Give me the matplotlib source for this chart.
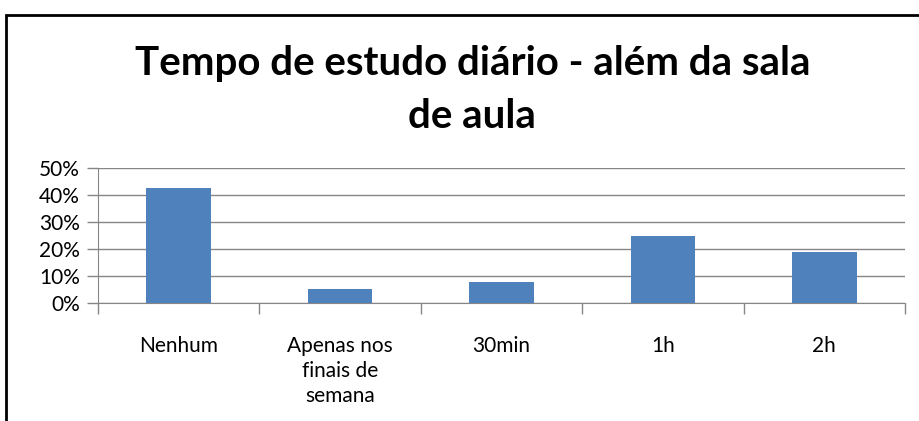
import matplotlib.pyplot as plt
from matplotlib.patches import Rectangle
from matplotlib.ticker import FixedLocator, PercentFormatter

categories = ["Nenhum", "Apenas nos\nfinais de\nsemana", "30min", "1h", "2h"]
values = [42.5, 5.3, 7.9, 24.9, 18.9]
yticks = [0, 10, 20, 30, 40, 50]
title_lines = ["Tempo de estudo diário - além da sala", "de aula"]

BAR_COLOR = "#4F81BD"
GRID_COLOR = "#868686"

plt.rcParams["font.family"] = ["Lato", "DejaVu Sans"]

fig = plt.figure(figsize=(9.19, 4.21), dpi=100)
ax = fig.add_axes([98 / 919, 1 - 303 / 421, (905 - 98) / 919, (303 - 168) / 421])

x = list(range(len(categories)))
ax.bar(x, values, width=0.4, color=BAR_COLOR, zorder=3)

ax.set_xlim(-0.5, len(categories) - 0.5)
ax.set_ylim(0, 50)
ax.set_yticks(yticks)
ax.yaxis.set_major_formatter(PercentFormatter(decimals=0))
ax.grid(axis="y", color=GRID_COLOR, linewidth=1, zorder=0)

# category labels centred, ticks on the boundaries
ax.xaxis.set_major_locator(FixedLocator([i - 0.5 for i in range(len(categories) + 1)]))
ax.xaxis.set_minor_locator(FixedLocator(x))
ax.set_xticklabels([""] * (len(categories) + 1))
ax.set_xticklabels(categories, minor=True, fontsize=15, linespacing=1.3, va="top")
ax.tick_params(axis="x", which="major", length=8, color=GRID_COLOR, width=1)
ax.tick_params(axis="x", which="minor", length=0, pad=24)
ax.tick_params(axis="y", length=8, color=GRID_COLOR, width=1, labelsize=15, pad=5)

for side in ("top", "right"):
    ax.spines[side].set_visible(False)
for side in ("left", "bottom"):
    ax.spines[side].set_color(GRID_COLOR)

# two-line title, baselines
for line, y_px in zip(title_lines, (75, 128)):
    fig.text(0.514, 1 - y_px / 421, line, ha="center", va="baseline",
             fontsize=29, fontweight="bold")

# outer chart border (runs off the right and bottom of the image)
fig.patches.append(Rectangle((6 / 919, -0.1), 1.2, 1 - 15 / 421 + 0.1,
                             transform=fig.transFigure, fill=False,
                             edgecolor="black", linewidth=2))

fig.savefig("out.png", dpi=100)
